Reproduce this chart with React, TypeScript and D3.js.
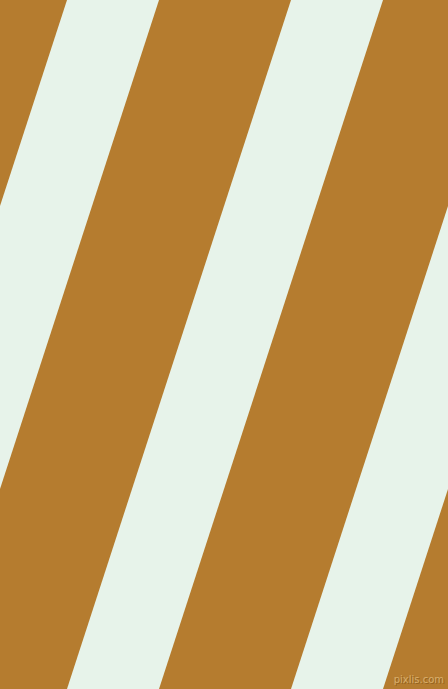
import React from 'react';
import * as d3 from 'd3';

const WIDTH = 448;
const HEIGHT = 689;

// stripe index -> light band; brown is the background
const stripeIndex = [-1, 0, 1, 2];
const stripeColors = { dark: '#b57c2f', light: '#e7f3ea' };
const watermark = 'pixlis.com';

const App: React.FC = () => {
  // position of each light band's left edge along the top edge
  const xScale = d3.scaleLinear().domain([0, 1]).range([67, 291]);
  const bandWidth = 92;
  const skewDeg = -Math.atan((xScale(1) - xScale(0)) / HEIGHT) * 180 / Math.PI;

  return (
    <svg
      width={WIDTH}
      height={HEIGHT}
      style={{ position: 'fixed', left: 0, top: 0, display: 'block' }}
    >
      <rect x={0} y={0} width={WIDTH} height={HEIGHT} fill={stripeColors.dark} />
      <g transform={`skewX(${skewDeg})`}>
        {stripeIndex.map(i => (
          <rect
            key={i}
            x={xScale(i)}
            y={-2}
            width={bandWidth}
            height={HEIGHT + 4}
            fill={stripeColors.light}
          />
        ))}
      </g>
      {/* watermark, small shadow under a lighter fill */}
      <text x={445} y={684} textAnchor="end" fontFamily="DejaVu Sans, sans-serif"
        fontSize={10} fill="#93621f">{watermark}</text>
      <text x={444} y={683} textAnchor="end" fontFamily="DejaVu Sans, sans-serif"
        fontSize={10} fill="#d8ae6c">{watermark}</text>
    </svg>
  );
};

export default App;
